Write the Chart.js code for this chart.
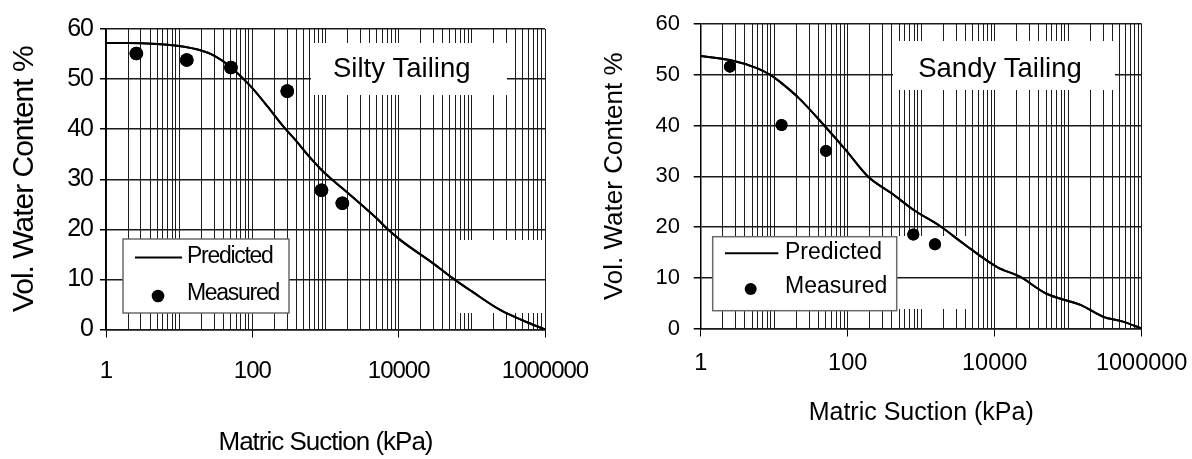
<!DOCTYPE html>
<html>
<head>
<meta charset="utf-8">
<script src="https://cdn.jsdelivr.net/npm/chart.js@4/dist/chart.umd.min.js"></script>
<style>
html,body{margin:0;padding:0;background:#fff;}
body{width:1192px;height:459px;position:relative;overflow:hidden;}
.box{position:absolute;top:0;height:459px;}
#b1{left:0;width:600px;}
#b2{left:600px;width:592px;}
canvas{display:block;}
</style>
</head>
<body>
<div class="box" id="b1"><canvas id="c1" width="600" height="459"></canvas></div>
<div class="box" id="b2"><canvas id="c2" width="592" height="459"></canvas></div>
<script>
// ---------- data ----------
const siltyPredX = [1, 2, 5, 10, 20, 30, 50, 70, 100, 160, 263, 400, 600, 890, 1260, 1700, 3160, 5000, 7100, 10700, 30200, 57500, 100000, 251000, 500000, 1000000];
const siltyPredY = [57.2, 57.2, 57.0, 56.6, 55.7, 54.7, 52.5, 50.5, 48.2, 44.6, 40.6, 37.6, 34.5, 31.8, 29.8, 28.2, 24.8, 22.2, 20.0, 17.8, 13.1, 10.0, 7.6, 3.8, 1.8, 0];
const siltyMeasX = [2.6, 12.7, 51, 300, 880, 1700];
const siltyMeasY = [55.1, 53.8, 52.3, 47.6, 27.8, 25.2];

const sandyPredX = [1, 2.5, 5.8, 8.8, 12, 22, 50, 95, 190, 400, 800, 1800, 3700, 10800, 22000, 50000, 150000, 300000, 540000, 1000000];
const sandyPredY = [53.7, 52.9, 51.3, 50.0, 48.6, 45.3, 39.7, 35.1, 29.9, 26.6, 23.3, 20.2, 16.8, 12.1, 10.2, 6.9, 4.6, 2.3, 1.4, 0];
const sandyMeasX = [2.5, 12.6, 50.7, 781, 1540];
const sandyMeasY = [51.6, 40.1, 35.0, 18.5, 16.6];

const xLabelValues = [1, 100, 10000, 1000000];
const xTickLabels = ['1', '100', '10000', '1000000'];
const yTickValues = [0, 10, 20, 30, 40, 50, 60];
const seriesNames = ['Predicted', 'Measured'];
const chartTitles = ['Silty Tailing', 'Sandy Tailing'];
const xAxisTitle = 'Matric Suction (kPa)';
const yAxisTitle = 'Vol. Water Content %';

// log grid positions (1..9 x 10^k)
const gridValues = [];
for (let k = 0; k <= 5; k++) for (let n = 1; n <= 9; n++) gridValues.push(n * Math.pow(10, k));
gridValues.push(1000000);

const FONT = "'Liberation Sans', Arial, Helvetica, sans-serif";

function pts(xs, ys) { return xs.map((x, i) => ({x: x, y: ys[i]})); }

function buildChart(spec) {
  const deco = {
    id: 'deco',
    beforeDraw(chart) { chart.ctx.letterSpacing = spec.spacing; },
    beforeDatasetsDraw(chart) {
      const ctx = chart.ctx;
      ctx.save();
      ctx.fillStyle = '#fff';
      const m = spec.mask;
      ctx.fillRect(m[0], m[1], m[2] - m[0], m[3] - m[1]);
      ctx.restore();
    },
    afterDraw(chart) {
      const ctx = chart.ctx;
      // keep data above the horizontal grid
      const metas = chart.getSortedVisibleDatasetMetas();
      for (let i = metas.length - 1; i >= 0; i--) metas[i].controller.draw();
      ctx.save();
      // title box
      const t = spec.titleBox;
      ctx.fillStyle = '#fff';
      ctx.fillRect(t.x, t.y, t.w, t.h);
      ctx.letterSpacing = '0px';
      ctx.fillStyle = '#000';
      ctx.font = t.font + 'px ' + FONT;
      ctx.textAlign = 'center';
      ctx.textBaseline = 'alphabetic';
      ctx.fillText(spec.title, t.cx, t.base);
      // legend
      const L = spec.legend;
      ctx.fillStyle = '#fff';
      ctx.fillRect(L.x, L.y, L.w, L.h);
      ctx.strokeStyle = '#6a6a6a';
      ctx.lineWidth = 1.5;
      ctx.strokeRect(L.x, L.y, L.w, L.h);
      const ds = chart.data.datasets;
      ctx.strokeStyle = ds[0].borderColor;
      ctx.lineWidth = 2;
      ctx.beginPath();
      ctx.moveTo(L.lx1, L.ly);
      ctx.lineTo(L.lx2, L.ly);
      ctx.stroke();
      ctx.fillStyle = ds[1].backgroundColor;
      ctx.beginPath();
      ctx.arc(L.dx, L.dy, L.dr, 0, Math.PI * 2);
      ctx.fill();
      ctx.letterSpacing = L.spacing;
      ctx.fillStyle = '#000';
      ctx.font = L.font + 'px ' + FONT;
      ctx.textAlign = 'left';
      ctx.textBaseline = 'middle';
      ctx.fillText(ds[0].label, L.tx, L.t1y);
      ctx.fillText(ds[1].label, L.tx, L.t2y);
      ctx.restore();
    }
  };

  return new Chart(document.getElementById(spec.canvas), {
    type: 'scatter',
    data: {
      datasets: [
        {
          label: seriesNames[0],
          data: pts(spec.predX, spec.predY),
          showLine: true,
          borderColor: '#000',
          backgroundColor: '#000',
          borderWidth: 2,
          pointRadius: 0,
          fill: false,
          cubicInterpolationMode: 'monotone'
        },
        {
          label: seriesNames[1],
          data: pts(spec.measX, spec.measY),
          showLine: false,
          backgroundColor: '#000',
          borderColor: '#000',
          borderWidth: 0,
          pointRadius: spec.pointR
        }
      ]
    },
    options: {
      responsive: false,
      animation: false,
      events: [],
      layout: { padding: spec.pad },
      plugins: { legend: { display: false }, tooltip: { enabled: false } },
      scales: {
        x: {
          type: 'logarithmic',
          min: 1,
          max: 1000000,
          afterBuildTicks: s => { s.ticks = gridValues.map(v => ({value: v})); },
          afterFit: s => { s.height = spec.xAxisHeight; s.paddingLeft = 0; s.paddingRight = 0; },
          ticks: {
            autoSkip: false, maxRotation: 0, minRotation: 0,
            padding: spec.xLabelPad,
            color: '#000',
            font: { family: FONT, size: spec.xLabelFont, lineHeight: 1 },
            callback: v => { const i = xLabelValues.indexOf(v); return i >= 0 ? xTickLabels[i] : ''; }
          },
          grid: {
            color: '#1c1c1c', lineWidth: 1, tickLength: 8,
            tickColor: c => (c.tick && xLabelValues.indexOf(c.tick.value) >= 0) ? '#000' : 'rgba(0,0,0,0)'
          },
          border: { color: '#000', width: 1.5 },
          title: {
            display: true, text: xAxisTitle, color: '#000',
            font: { family: FONT, size: spec.xTitleFont, lineHeight: 1 },
            padding: { top: 0, bottom: spec.xTitlePad }
          }
        },
        y: {
          type: 'linear',
          min: 0,
          max: 60,
          afterBuildTicks: s => { s.ticks = yTickValues.map(v => ({value: v})); },
          afterFit: s => { s.width = spec.yAxisWidth; s.paddingTop = 0; s.paddingBottom = 0; },
          ticks: {
            padding: spec.yLabelPad,
            color: '#000',
            font: { family: FONT, size: spec.yLabelFont, lineHeight: 1 },
            callback: v => String(v)
          },
          grid: { z: 1, color: '#1a1a1a', lineWidth: 1.5, tickLength: spec.yTickLen, tickColor: '#000' },
          border: { z: 2, color: '#000', width: 1.5 },
          title: {
            display: true, text: yAxisTitle, color: '#000',
            font: { family: FONT, size: spec.yTitleFont, lineHeight: 1 },
            padding: { top: spec.yTitlePad, bottom: 0 }
          }
        }
      }
    },
    plugins: [deco]
  });
}

buildChart({
  canvas: 'c1', title: chartTitles[0],
  predX: siltyPredX, predY: siltyPredY, measX: siltyMeasX, measY: siltyMeasY,
  pointR: 6.8,
  pad: { left: 0, right: 55, top: 29, bottom: 0 },
  yAxisWidth: 106, xAxisHeight: 129.5,
  spacing: '-1px',
  xLabelFont: 24, xLabelPad: 21.5, xTitleFont: 26, xTitlePad: 3,
  yLabelFont: 25, yLabelPad: 7, yTickLen: 6, yTitleFont: 30, yTitlePad: 10,
  mask: [458, 240, 543, 313],
  titleBox: { x: 311, y: 43, w: 196, h: 52, cx: 401.7, base: 76.7, font: 27.5 },
  legend: { x: 123, y: 239, w: 166, h: 74, lx1: 135, lx2: 182, ly: 257.5, dx: 158, dy: 296, dr: 6.3,
            tx: 187, t1y: 256.5, t2y: 294, font: 23, spacing: '-1.3px' }
});

buildChart({
  canvas: 'c2', title: chartTitles[1],
  predX: sandyPredX, predY: sandyPredY, measX: sandyMeasX, measY: sandyMeasY,
  pointR: 6,
  pad: { left: 0, right: 50.3, top: 24, bottom: 0 },
  yAxisWidth: 100.7, xAxisHeight: 130.5,
  spacing: '0px',
  xLabelFont: 23.5, xLabelPad: 15.75, xTitleFont: 25, xTitlePad: 33.5,
  yLabelFont: 22, yLabelPad: 13.7, yTickLen: 7, yTitleFont: 26, yTitlePad: 2,
  mask: [297, 236, 372, 309],
  titleBox: { x: 293, y: 41, w: 222, h: 49, cx: 400, base: 76.7, font: 27.5 },
  legend: { x: 112.7, y: 236.7, w: 184, h: 74, lx1: 125, lx2: 178.3, ly: 253.3, dx: 150.7, dy: 289, dr: 6,
            tx: 185, t1y: 252.3, t2y: 286.7, font: 23, spacing: '0px' }
});
</script>
</body>
</html>
